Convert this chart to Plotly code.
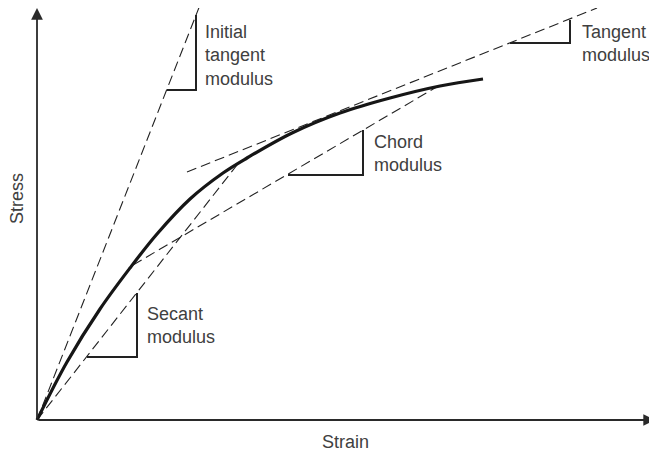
import plotly.graph_objects as go

# stress-strain curve (strain, stress), arbitrary units
strain = [0, 30, 63, 93, 120, 153, 186, 210, 255, 303, 353, 403, 446]
stress = [0, 58, 111, 152, 186, 221, 247, 262, 287, 307, 322, 334, 341]

# dashed modulus lines: [x0, x1], [y0, y1]
initial_x, initial_y = [0, 163], [0, 415]
secant_x, secant_y = [0, 200], [0, 255]
chord_x, chord_y = [96, 403], [155, 335]
tangent_x, tangent_y = [150, 560], [248, 412]

# slope triangles (L shapes): left end, corner, top
tri_initial_x, tri_initial_y = [130, 159, 159], [330, 330, 405]
tri_tangent_x, tri_tangent_y = [473, 533, 533], [377, 377, 400]
tri_chord_x, tri_chord_y = [251, 326, 326], [245, 245, 290]
tri_secant_x, tri_secant_y = [50, 100, 100], [63, 63, 127]

labels = ["Initial<br>tangent<br>modulus", "Tangent<br>modulus",
          "Chord<br>modulus", "Secant<br>modulus"]
label_x = [166, 543, 335, 108]
label_y = [400, 400, 290, 118]

INK = "#222222"
TXT = "#404040"
FONT = "Liberation Sans"

fig = go.Figure()

for lx, ly in [(initial_x, initial_y), (secant_x, secant_y),
               (chord_x, chord_y), (tangent_x, tangent_y)]:
    fig.add_trace(go.Scatter(x=lx, y=ly, mode="lines",
                             line=dict(color=INK, width=1.1, dash="10px,5px"),
                             hoverinfo="skip"))

for tx, ty in [(tri_initial_x, tri_initial_y), (tri_tangent_x, tri_tangent_y),
               (tri_chord_x, tri_chord_y), (tri_secant_x, tri_secant_y)]:
    fig.add_trace(go.Scatter(x=tx, y=ty, mode="lines",
                             line=dict(color=INK, width=2),
                             hoverinfo="skip"))

# main curve
fig.add_trace(go.Scatter(x=strain, y=stress, mode="lines",
                         line=dict(color="#161616", width=3.2, shape="spline",
                                   smoothing=1.0),
                         hoverinfo="skip"))

# axes with arrows
for tip in [(618, 0), (0, 412)]:
    fig.add_annotation(x=tip[0], y=tip[1], ax=0, ay=0, axref="x", ayref="y",
                       xref="x", yref="y", text="", showarrow=True,
                       arrowhead=2, arrowsize=1.3, arrowwidth=1.8,
                       arrowcolor="#2a2a2a", standoff=0, startstandoff=0)

for t, x, y in zip(labels, label_x, label_y):
    fig.add_annotation(x=x, y=y, text=t, showarrow=False, xanchor="left",
                       yanchor="top", align="left",
                       font=dict(family=FONT, size=18, color=TXT))

fig.add_annotation(x=-20, y=221, text="Stress", showarrow=False, textangle=-90,
                   font=dict(family=FONT, size=18, color=TXT))
fig.add_annotation(x=308, y=-22, text="Strain", showarrow=False,
                   font=dict(family=FONT, size=18, color=TXT))

# page body adds an 8px margin, so the figure is 8px smaller than the window
fig.update_xaxes(visible=False, range=[-29, 620], fixedrange=True)
fig.update_yaxes(visible=False, range=[-32, 412], fixedrange=True)

fig.update_layout(
    width=649, height=444,
    margin=dict(l=0, r=0, t=0, b=0),
    plot_bgcolor="white", paper_bgcolor="white",
    showlegend=False,
)

fig.write_html("out.html")
